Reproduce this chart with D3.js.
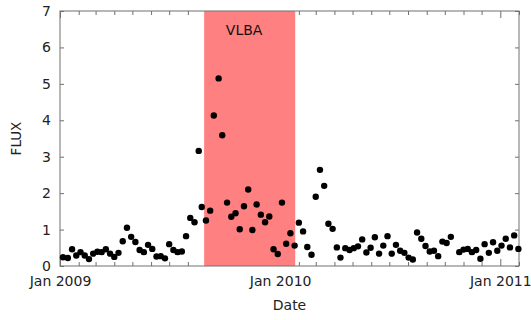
<!DOCTYPE html>
<html>
<head>
<meta charset="utf-8">
<script src="https://cdn.jsdelivr.net/npm/d3@7"></script>
<style>
  html, body { margin: 0; padding: 0; background: #fff; }
  svg { display: block; font-family: "DejaVu Sans", sans-serif; }
</style>
</head>
<body>
<svg id="chart" width="531" height="320"></svg>
<script>
// ---- data ----
const dates = [
  "2009-01-06","2009-01-14","2009-01-21","2009-01-28","2009-02-04","2009-02-11","2009-02-18","2009-02-25",
  "2009-03-04","2009-03-11","2009-03-18","2009-03-25","2009-04-01","2009-04-08","2009-04-15","2009-04-22",
  "2009-04-29","2009-05-06","2009-05-13","2009-05-20","2009-05-27","2009-06-03","2009-06-10","2009-06-17",
  "2009-06-24","2009-07-01","2009-07-08","2009-07-15","2009-07-22","2009-07-29","2009-08-05","2009-08-12",
  "2009-08-19","2009-08-24","2009-08-31","2009-09-07","2009-09-13","2009-09-21","2009-09-27","2009-10-05",
  "2009-10-12","2009-10-19","2009-10-26","2009-11-02","2009-11-09","2009-11-16","2009-11-23","2009-11-30",
  "2009-12-07","2009-12-14","2009-12-21","2009-12-28","2010-01-04","2010-01-11","2010-01-18","2010-01-25",
  "2010-02-01","2010-02-08","2010-02-15","2010-02-22","2010-03-01","2010-03-08","2010-03-15","2010-03-22",
  "2010-03-29","2010-04-05","2010-04-11","2010-04-19","2010-04-26","2010-05-03","2010-05-10","2010-05-17",
  "2010-05-24","2010-05-31","2010-06-07","2010-06-14","2010-06-21","2010-06-28","2010-07-05","2010-07-12",
  "2010-07-19","2010-07-26","2010-08-02","2010-08-09","2010-08-16","2010-08-23","2010-08-30","2010-09-06",
  "2010-09-13","2010-09-20","2010-09-27","2010-10-04","2010-10-11","2010-10-25","2010-11-01","2010-11-08",
  "2010-11-15","2010-11-22","2010-11-29","2010-12-06","2010-12-13","2010-12-20","2010-12-27","2011-01-03",
  "2011-01-10","2011-01-17","2011-01-24","2011-01-31"
];
const flux = [
  0.24,0.22,0.46,0.29,0.38,0.29,0.19,0.34,
  0.39,0.38,0.46,0.34,0.25,0.36,0.68,1.05,
  0.80,0.66,0.44,0.38,0.58,0.47,0.26,0.27,
  0.21,0.60,0.44,0.38,0.40,0.82,1.32,1.20,
  3.16,1.62,1.25,1.52,4.13,5.15,3.59,1.74,
  1.35,1.45,1.01,1.64,2.10,0.99,1.69,1.41,
  1.20,1.36,0.46,0.33,1.74,0.61,0.90,0.56,
  1.19,0.95,0.52,0.31,1.90,2.64,2.20,1.16,
  1.02,0.51,0.23,0.49,0.44,0.49,0.54,0.73,
  0.37,0.50,0.79,0.34,0.56,0.82,0.34,0.58,
  0.42,0.36,0.23,0.18,0.92,0.75,0.55,0.40,
  0.42,0.27,0.67,0.63,0.80,0.38,0.45,0.47,
  0.38,0.44,0.20,0.60,0.36,0.65,0.42,0.56,
  0.75,0.51,0.84,0.47
];
const xDomain = ["2009-01-01", "2011-02-01"];
const yDomain = [0, 7];
const yTicks = [0, 1, 2, 3, 4, 5, 6, 7];
const bandRange = ["2009-08-28", "2010-01-26"];
const bandLabel = "VLBA";
const xTitle = "Date";
const yTitle = "FLUX";

// ---- chart ----
const parse = d3.utcParse("%Y-%m-%d");
const svg = d3.select("#chart");
const L = 60, R = 519, T = 11, B = 266;
const axisColor = "#707070";
const textColor = "#222";

const x = d3.scaleUtc().domain(xDomain.map(parse)).range([L, R]);
const y = d3.scaleLinear().domain(yDomain).range([B, T]);

function styleAxis(g) {
  g.select(".domain").remove();
  g.selectAll(".tick line").attr("stroke", axisColor);
  g.selectAll(".tick text").attr("fill", textColor).attr("font-size", 14)
    .attr("font-family", "DejaVu Sans, sans-serif");
}

const isJan = d => d.getUTCMonth() === 0;
const months = d3.utcMonth.every(1);

// bottom axis
const gx = svg.append("g").attr("transform", `translate(0,${B})`)
  .call(d3.axisBottom(x).ticks(months).tickSize(-4).tickPadding(10.5)
    .tickFormat(d => isJan(d) ? d3.utcFormat("%b %Y")(d) : ""));
styleAxis(gx);
gx.selectAll(".tick line").filter(d => isJan(d)).attr("y2", -7);

// top axis
const gt = svg.append("g").attr("transform", `translate(0,${T})`)
  .call(d3.axisTop(x).ticks(months).tickSize(-4).tickFormat(""));
styleAxis(gt);
gt.selectAll(".tick line").filter(d => isJan(d)).attr("y2", 7);

// left axis
const gy = svg.append("g").attr("transform", `translate(${L},0)`)
  .call(d3.axisLeft(y).tickValues(yTicks).tickSize(-4).tickPadding(9).tickFormat(d3.format("d")));
styleAxis(gy);

// right axis
const gr = svg.append("g").attr("transform", `translate(${R},0)`)
  .call(d3.axisRight(y).tickValues(yTicks).tickSize(-4).tickFormat(""));
styleAxis(gr);

// band
const b0 = parse(bandRange[0]), b1 = parse(bandRange[1]);
svg.append("rect")
  .attr("x", x(b0)).attr("y", y(yDomain[1]))
  .attr("width", x(b1) - x(b0)).attr("height", y(yDomain[0]) - y(yDomain[1]))
  .attr("fill", "#ff8080");

// border
svg.append("rect")
  .attr("x", L).attr("y", T).attr("width", R - L).attr("height", B - T)
  .attr("fill", "none").attr("stroke", axisColor).attr("stroke-width", 1);

// band label
svg.append("text")
  .attr("x", x(b0) + 40).attr("y", 34.5)
  .attr("text-anchor", "middle").attr("font-size", 14).attr("fill", "#111")
  .text(bandLabel);

// points
svg.append("g").selectAll("circle")
  .data(dates.map((d, i) => ({ date: parse(d), v: flux[i] })))
  .join("circle")
  .attr("cx", d => x(d.date)).attr("cy", d => y(d.v))
  .attr("r", 3.2).attr("fill", "#000");

// titles
svg.append("text")
  .attr("x", (L + R) / 2).attr("y", 310)
  .attr("text-anchor", "middle").attr("font-size", 14).attr("fill", textColor)
  .text(xTitle);
svg.append("text")
  .attr("transform", `translate(21,${(T + B) / 2}) rotate(-90)`)
  .attr("text-anchor", "middle").attr("font-size", 13.5).attr("fill", textColor)
  .text(yTitle);
</script>
</body>
</html>
